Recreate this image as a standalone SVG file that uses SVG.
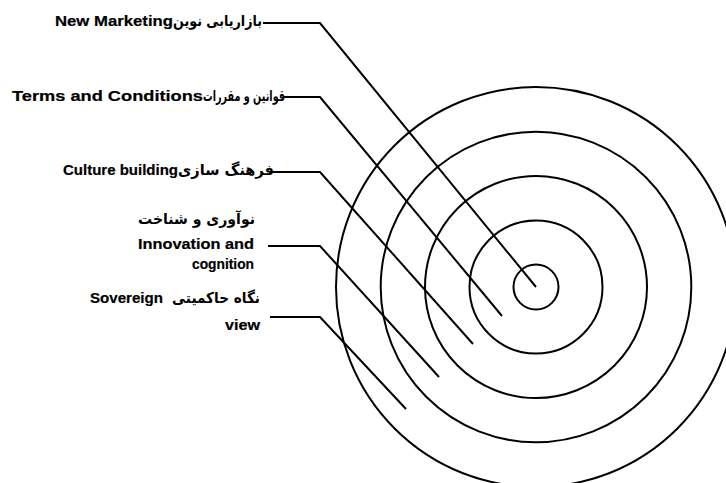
<svg xmlns="http://www.w3.org/2000/svg" width="726" height="483" viewBox="0 0 726 483">
<style>
.ring{fill:none;stroke:#000;stroke-width:2}
.conn{fill:none;stroke:#000;stroke-width:2;stroke-linejoin:miter}
.en{font-family:"Liberation Sans",Arial,sans-serif;font-weight:bold;font-size:15px;fill:#000;stroke:#000;stroke-width:0.2}
.fa{font-family:"DejaVu Sans","Noto Sans",sans-serif;font-weight:bold;font-size:15px;fill:#000}
</style>
<rect width="726" height="483" fill="#fff"/>
<g id="rings">
<circle class="ring" cx="536" cy="287" r="22.5"/>
<circle class="ring" cx="536" cy="287" r="66.5"/>
<circle class="ring" cx="536" cy="287" r="111"/>
<circle class="ring" cx="536" cy="287" r="155.3"/>
<circle class="ring" cx="536" cy="287" r="200"/>
</g>
<g id="connectors">
<polyline class="conn" points="263,23 320,23 536,287"/>
<polyline class="conn" points="283,97 320,97 502,316"/>
<polyline class="conn" points="270,172 320,172 473,344"/>
<polyline class="conn" points="268,246 320,246 439,377"/>
<polyline class="conn" points="270,317 320,317 406,409"/>
</g>
<g id="n1">
<text class="en" x="55" y="26" textLength="118" lengthAdjust="spacingAndGlyphs">New Marketing</text>
<text class="fa" x="173" y="26" textLength="89" lengthAdjust="spacingAndGlyphs">بازاریابی نوین</text>
</g>
<g id="n2">
<text class="en" x="12" y="100.5" textLength="191" lengthAdjust="spacingAndGlyphs">Terms and Conditions</text>
<text class="fa" x="203" y="100.5" textLength="82" lengthAdjust="spacingAndGlyphs">قوانین و مقررات</text>
</g>
<g id="n3">
<text class="en" x="63" y="175" textLength="115" lengthAdjust="spacingAndGlyphs">Culture building</text>
<text class="fa" x="178" y="175" textLength="96" lengthAdjust="spacingAndGlyphs">فرهنگ سازی</text>
</g>
<g id="n4">
<text class="fa" x="138" y="224" textLength="117" lengthAdjust="spacingAndGlyphs">نوآوری و شناخت</text>
<text class="en" x="138" y="248.5" textLength="116" lengthAdjust="spacingAndGlyphs">Innovation and</text>
<text class="en" x="192" y="268.5" textLength="62" lengthAdjust="spacingAndGlyphs">cognition</text>
</g>
<g id="n5">
<text class="en" x="90" y="303" textLength="73" lengthAdjust="spacingAndGlyphs">Sovereign</text>
<text class="fa" x="172" y="303" textLength="88" lengthAdjust="spacingAndGlyphs">نگاه حاکمیتی</text>
<text class="en" x="225" y="330" textLength="35" lengthAdjust="spacingAndGlyphs">view</text>
</g>
</svg>
